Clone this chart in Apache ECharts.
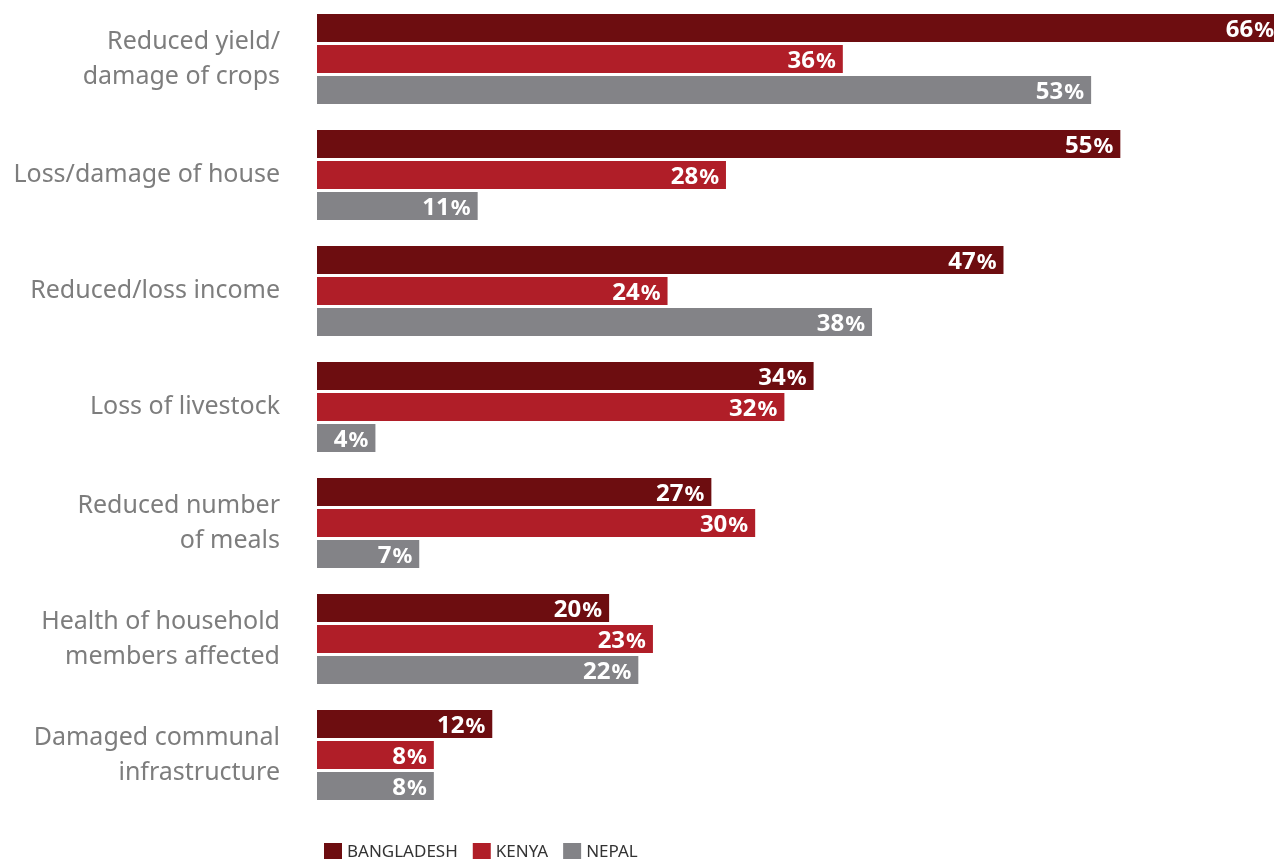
<!DOCTYPE html>
<html>
<head>
<meta charset="utf-8">
<script src="https://cdn.jsdelivr.net/npm/echarts@6/dist/echarts.min.js"></script>
<style>
  html, body { margin: 0; padding: 0; background: #fff; }
  #chart { width: 1274px; height: 859px; }
</style>
</head>
<body>
<div id="chart"></div>
<script>
const categories = [
  'Reduced yield/\ndamage of crops',
  'Loss/damage of house',
  'Reduced/loss income',
  'Loss of livestock',
  'Reduced number\nof meals',
  'Health of household\nmembers affected',
  'Damaged communal\ninfrastructure'
];
const bangladesh = [66, 55, 47, 34, 27, 20, 12];
const kenya = [36, 28, 24, 32, 30, 23, 8];
const nepal = [53, 11, 38, 4, 7, 22, 8];

const colors = ['#6d0d10', '#b01e28', '#838387'];
const font = '"Noto Sans", "Open Sans", sans-serif';

const barLabel = {
  show: true,
  position: 'insideRight',
  distance: 7,
  offset: [0, 2],
  formatter: p => '{n|' + p.value + '}{p|%}',
  rich: {
    n: { color: '#fff', fontSize: 24, fontWeight: 'bold', fontFamily: font },
    p: { color: '#fff', fontSize: 22, fontWeight: 'bold', fontFamily: font, padding: [1, 0, 0, 1] }
  }
};

function makeSeries(name, data, color) {
  return {
    name: name,
    type: 'bar',
    data: data,
    barWidth: 28,
    barGap: '11%',
    itemStyle: { color: color },
    label: barLabel,
    animation: false
  };
}

const myChart = echarts.init(document.getElementById('chart'));
const option = {
  animation: false,
  grid: { left: 317, top: 1, width: 964, height: 812, outerBoundsMode: 'none' },
  legend: {
    left: 319,
    top: 838,
    itemWidth: 18,
    itemHeight: 18,
    itemGap: 15,
    icon: 'rect',
    textStyle: { color: '#333', fontSize: 17, fontFamily: font }
  },
  xAxis: {
    type: 'value',
    min: 0,
    max: 66,
    show: false
  },
  yAxis: {
    type: 'category',
    data: categories,
    inverse: true,
    axisLine: { show: false },
    axisTick: { show: false },
    axisLabel: {
      margin: 37,
      color: '#7d7d7d',
      fontSize: 25,
      lineHeight: 35,
      fontFamily: font
    }
  },
  series: [
    makeSeries('BANGLADESH', bangladesh, colors[0]),
    makeSeries('KENYA', kenya, colors[1]),
    makeSeries('NEPAL', nepal, colors[2])
  ]
};

option && myChart.setOption(option);
</script>
</body>
</html>
